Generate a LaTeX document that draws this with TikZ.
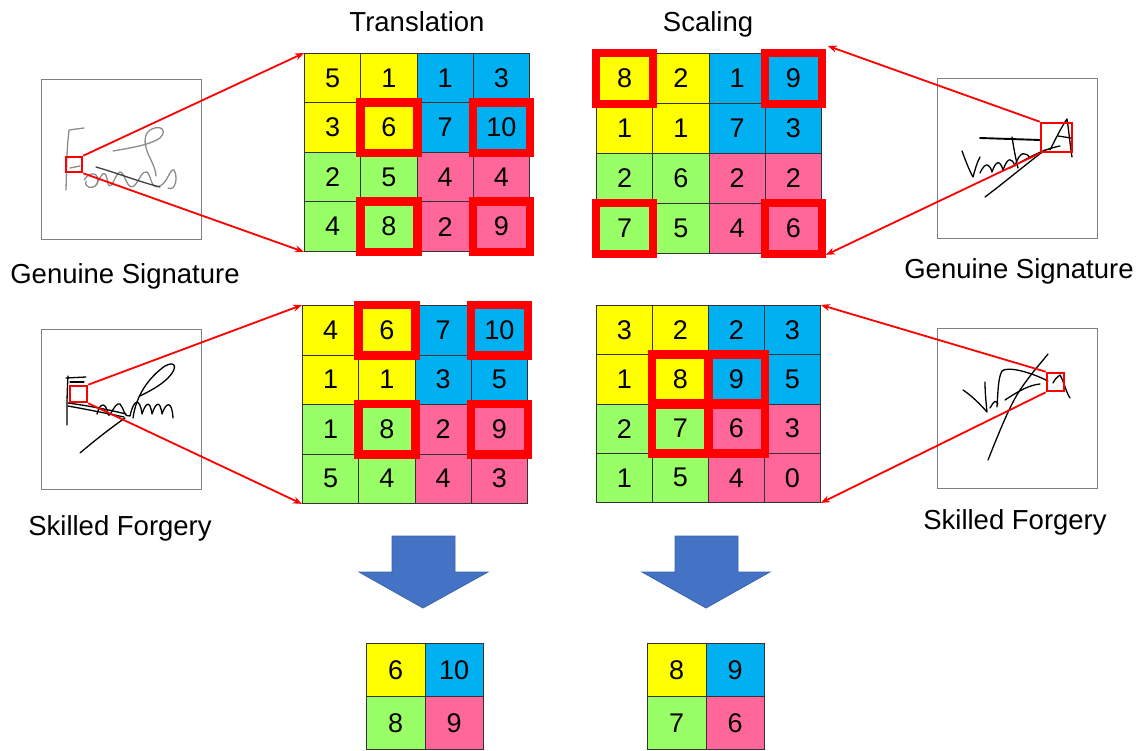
\documentclass[tikz,border=0pt]{standalone}
\usepackage{fontspec}
\setmainfont{Liberation Sans}
\usetikzlibrary{arrows.meta}

\definecolor{cyel}{HTML}{FFFF00}
\definecolor{cblu}{HTML}{00B0F0}
\definecolor{cgrn}{HTML}{99FF66}
\definecolor{cpnk}{HTML}{FF6699}
\definecolor{hlred}{HTML}{FF0000}
\definecolor{arrblue}{HTML}{4472C4}
\definecolor{arredge}{HTML}{3A64B0}
\definecolor{framegray}{HTML}{808080}
\definecolor{inkgray}{HTML}{8C8C8C}

% n x n grid of numbered cells, coloured by quadrant
% #1 name, #2 x0, #3 y0, #4 cell width, #5 cell height, #6 n, #7 values
\newcommand{\cellgrid}[7]{%
  \foreach \v [count=\i from 0] in {#7} {
    \pgfmathtruncatemacro{\gr}{int(\i/#6)}
    \pgfmathtruncatemacro{\gc}{mod(\i,#6)}
    \pgfmathtruncatemacro{\gq}{(\gr>=#6/2)*2+(\gc>=#6/2)}
    \ifcase\gq \def\gcol{cyel}\or \def\gcol{cblu}\or \def\gcol{cgrn}\or \def\gcol{cpnk}\fi
    \node[cell, fill=\gcol, minimum width=#4pt, minimum height=#5pt]
      (#1-\gr-\gc) at ({#2+\gc*#4},{#3+\gr*#5}) {\v};
  }%
}

\tikzset{
  txt/.style={font=\fontsize{27.5}{32}\selectfont, inner sep=0pt},
  cell/.style={draw=black!80, line width=0.9pt, anchor=north west, inner sep=0pt,
    font=\fontsize{27}{32}\selectfont},
  hl/.style={draw=hlred, line width=8.5pt},
  sigbox/.style={draw=framegray, line width=1pt, minimum width=160pt, minimum height=160pt, inner sep=0pt},
  zoombox/.style={draw=hlred, line width=2.6pt, inner sep=0pt},
  zoomline/.style={draw=hlred, line width=1.8pt, -{Stealth[length=9pt,width=7pt]}},
  ink/.style={draw=black, line width=1.3pt, line cap=round, line join=round},
  lightink/.style={draw=inkgray, line width=1.3pt, line cap=round, line join=round},
  bigarrow/.style={fill=arrblue, draw=arredge, line width=0.8pt}
}

\begin{document}
\begin{tikzpicture}[x=1pt, y=-1pt]
\useasboundingbox (0,0) rectangle (1143,751);

% column titles
\node[txt, anchor=base] (ttrans) at (417,32) {Translation};
\node[txt, anchor=base] (tscale) at (708,32) {Scaling};

% feature grids
\cellgrid{ta}{304}{53}{56.25}{49.5}{4}{5,1,1,3,3,6,7,10,2,5,4,4,4,8,2,9}
\cellgrid{sa}{596}{53}{56.25}{50}{4}{8,2,1,9,1,1,7,3,2,6,2,2,7,5,4,6}
\cellgrid{tb}{302}{305}{56.25}{49.5}{4}{4,6,7,10,1,1,3,5,1,8,2,9,5,4,4,3}
\cellgrid{sb}{596}{305}{56}{49.25}{4}{3,2,2,3,1,8,9,5,2,7,6,3,1,5,4,0}

% pooled results
\cellgrid{ra}{366}{643}{58.5}{53}{2}{6,10,8,9}
\cellgrid{rb}{647}{643}{58.5}{53}{2}{8,9,7,6}

% selected maxima
\foreach \nm in {ta-1-1, ta-1-3, ta-3-1, ta-3-3,
                 sa-0-0, sa-0-3, sa-3-0, sa-3-3,
                 tb-0-1, tb-0-3, tb-2-1, tb-2-3,
                 sb-1-1, sb-1-2, sb-2-1, sb-2-2}
  \draw[hl] (\nm.north west) rectangle (\nm.south east);

% signature frames
\node[sigbox] (siga) at (121,159.5) {};
\node[sigbox] (sigb) at (121,409) {};
\node[sigbox] (sigc) at (1017,158.5) {};
\node[sigbox] (sigd) at (1017,408) {};

% genuine signature, left (light ink)
\draw[lightink] (84,128) -- (69,130) .. controls (67,150) .. (66,190);
\draw[lightink] (70,168) -- (80,166);
\draw[lightink] (84,180) .. controls (90,170) and (101,173) .. (97,184) .. controls (93,190) and (84,188) .. (86,181);
\draw[lightink] (97,184) .. controls (103,170) and (106,170) .. (108,184) .. controls (112,192) and (116,170) .. (121,172)
  .. controls (126,176) and (127,190) .. (134,186) .. controls (140,180) and (142,170) .. (147,172)
  .. controls (152,176) and (150,190) .. (160,186) .. controls (168,182) and (170,168) .. (174,170)
  .. controls (178,176) and (176,192) .. (168,188);
\draw[lightink] (113,151) .. controls (130,148) and (150,145) .. (160,138) .. controls (168,130) and (160,124) .. (150,130)
  .. controls (142,136) and (145,148) .. (150,158) .. controls (154,166) and (156,172) .. (156,176);
\draw[draw=black!75, line width=1.3pt, line cap=round] (96,167) .. controls (120,174) and (140,182) .. (160,187);

% skilled forgery, left
\draw[ink] (66,378) -- (86,377);
\draw[ink] (70,382) -- (84,382);
\draw[ink] (68,376) .. controls (67,395) .. (67,425);
\draw[ink] (68,403) .. controls (90,406) and (110,410) .. (126,414);
\draw[ink] (68,406) .. controls (90,410) and (110,414) .. (124,417);
\draw[ink] (97,414) .. controls (100,402) and (106,402) .. (108,414) .. controls (110,420) and (114,402) .. (120,404)
  .. controls (124,408) and (124,418) .. (130,416) .. controls (134,398) and (140,398) .. (142,414)
  .. controls (146,402) and (150,400) .. (152,414) .. controls (156,402) and (160,400) .. (162,414)
  .. controls (166,402) and (172,400) .. (173,418);
\draw[ink] (80,453) .. controls (100,436) and (115,425) .. (125,418);
\draw[ink] (133,418) .. controls (136,396) and (148,378) .. (165,366) .. controls (176,360) and (178,368) .. (168,378)
  .. controls (160,386) and (148,392) .. (140,396);

% genuine signature, right
\draw[ink] (962,151) .. controls (966,162) and (970,172) .. (973,177) .. controls (975,170) and (977,162) .. (980,157);
\draw[ink] (980,173) .. controls (986,160) and (990,165) .. (992,172) .. controls (996,160) and (1000,160) .. (1003,170)
  .. controls (1008,156) and (1012,158) .. (1015,166) .. controls (1020,150) and (1026,152) .. (1030,158);
\draw[draw=black, line width=1.9pt, line cap=round] (980,138) -- (1040,140);
\draw[ink] (985,197) .. controls (1005,182) and (1025,165) .. (1045,150);
\draw[ink] (1012,137) .. controls (1014,150) and (1016,160) .. (1018,168);
\draw[ink] (1010,168) .. controls (1025,160) and (1040,150) .. (1060,146);
\draw[ink] (1050,150) .. controls (1056,138) and (1062,126) .. (1067,119) .. controls (1069,132) and (1070,145) .. (1072,157);
\draw[ink] (1058,136) -- (1071,138);

% skilled forgery, right
\draw[ink] (963,390) .. controls (972,396) and (980,404) .. (987,412) .. controls (986,402) and (985,392) .. (985,382);
\draw[ink] (990,408) .. controls (995,400) .. (998,404);
\draw[ink] (997,407) .. controls (998,392) and (998,378) .. (1002,371) .. controls (1008,366) and (1030,372) .. (1048,381);
\draw[ink] (988,460) .. controls (1000,430) and (1010,405) .. (1020,390) .. controls (1030,375) and (1040,364) .. (1048,354);
\draw[ink] (1005,400) .. controls (1020,390) and (1030,385) .. (1040,384);
\draw[ink] (1053,383) .. controls (1056,378) .. (1060,375) .. controls (1064,382) and (1066,392) .. (1070,398);

% magnified regions
\node[zoombox, minimum width=16pt, minimum height=15pt] (za) at (74,164.5) {};
\node[zoombox, minimum width=17pt, minimum height=16pt] (zb) at (78.5,394) {};
\node[zoombox, minimum width=31pt, minimum height=29pt] (zc) at (1056.5,137.5) {};
\node[zoombox, minimum width=17pt, minimum height=18pt] (zd) at (1055.5,382) {};

% zoom connectors
\draw[zoomline] (za.north east) -- (ta-0-0.north west);
\draw[zoomline] (za.south east) -- (ta-3-0.south west);
\draw[zoomline] (zb.north east) -- (tb-0-0.north west);
\draw[zoomline] (zb.south east) -- (tb-3-0.south west);
\draw[zoomline] (zc.north west) -- ([shift={(6,-7)}]sa-0-3.north east);
\draw[zoomline] (zc.south west) -- ([shift={(4,1)}]sa-3-3.south east);
\draw[zoomline] (zd.north west) -- (sb-0-3.north east);
\draw[zoomline] (zd.south west) -- (sb-3-3.south east);

% captions
\node[txt, anchor=base] (capa) at (125,284) {Genuine Signature};
\node[txt, anchor=base] (capb) at (120,535) {Skilled Forgery};
\node[txt, anchor=base] (capc) at (1019,279) {Genuine Signature};
\node[txt, anchor=base] (capd) at (1015,529) {Skilled Forgery};

% pooling arrows
\draw[bigarrow] (392,536) -- (455,536) -- (455,572) -- (488,572) -- (423,608) -- (359,572) -- (392,572) -- cycle;
\draw[bigarrow] (675,536) -- (738,536) -- (738,572) -- (770,572) -- (706,608) -- (642,572) -- (675,572) -- cycle;
\end{tikzpicture}
\end{document}
